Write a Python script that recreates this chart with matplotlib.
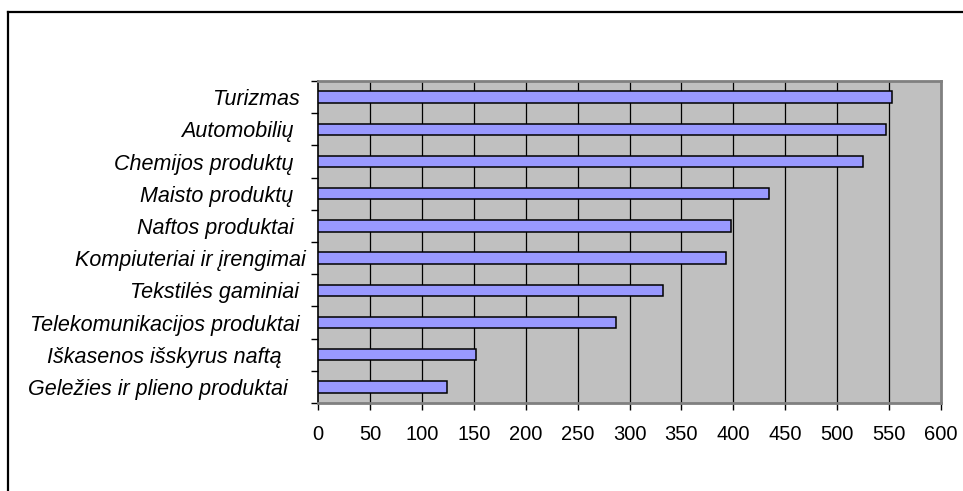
import matplotlib
matplotlib.use("Agg")
import matplotlib.pyplot as plt
from matplotlib.lines import Line2D

# data, bottom to top
categories = ["Geležies ir plieno produktai   ", "Iškasenos išskyrus naftą    ",
              "Telekomunikacijos produktai ", "Tekstilės gaminiai ",
              "Kompiuteriai ir įrengimai", "Naftos produktai  ",
              "Maisto produktų  ", "Chemijos produktų  ", "Automobilių  ", "Turizmas "]
values = [124, 152, 287, 332, 393, 398, 434, 525, 547, 553]
xticks = list(range(0, 601, 50))

plt.rcParams['font.family'] = ['Liberation Sans', 'DejaVu Sans']

W, H = 963, 491
fig = plt.figure(figsize=(W / 100, H / 100), dpi=100)
ax = fig.add_axes([318 / W, 1 - 403 / H, (941 - 318) / W, (403 - 81) / H])

ax.set_facecolor('#C0C0C0')
ax.set_xlim(0, 600)
ax.set_ylim(-0.5, len(categories) - 0.5)

for x in xticks[1:-1]:
    ax.axvline(x, color='black', lw=0.9, zorder=1)

ax.barh(range(len(categories)), values, height=0.36, color='#9999FF',
        edgecolor='black', lw=1.1, zorder=3)

ax.set_xticks(xticks)
ax.set_xticklabels([str(x) for x in xticks], fontsize=14.5)
ax.tick_params(axis='x', length=5, width=1, color='black', pad=11)

ax.set_yticks(range(len(categories)))
ax.set_yticklabels(categories, fontsize=15.5, style='italic')
ax.tick_params(axis='y', which='major', length=0, pad=9)
ax.set_yticks([i - 0.5 for i in range(len(categories) + 1)], minor=True)
ax.tick_params(axis='y', which='minor', length=5, width=1, color='black')

for s in ['top', 'right', 'bottom']:
    ax.spines[s].set_color('#808080')
    ax.spines[s].set_linewidth(2)
ax.spines['left'].set_color('black')
ax.spines['left'].set_linewidth(1.2)

# outer frame, only top and left edges are visible in the crop
fig.add_artist(Line2D([7.5 / W, 7.5 / W], [0, 1 - 11.5 / H], color='black', lw=1.6,
                      transform=fig.transFigure))
fig.add_artist(Line2D([7.5 / W, 1], [1 - 11.5 / H, 1 - 11.5 / H], color='black', lw=1.6,
                      transform=fig.transFigure))

fig.savefig('out.png', dpi=100)
